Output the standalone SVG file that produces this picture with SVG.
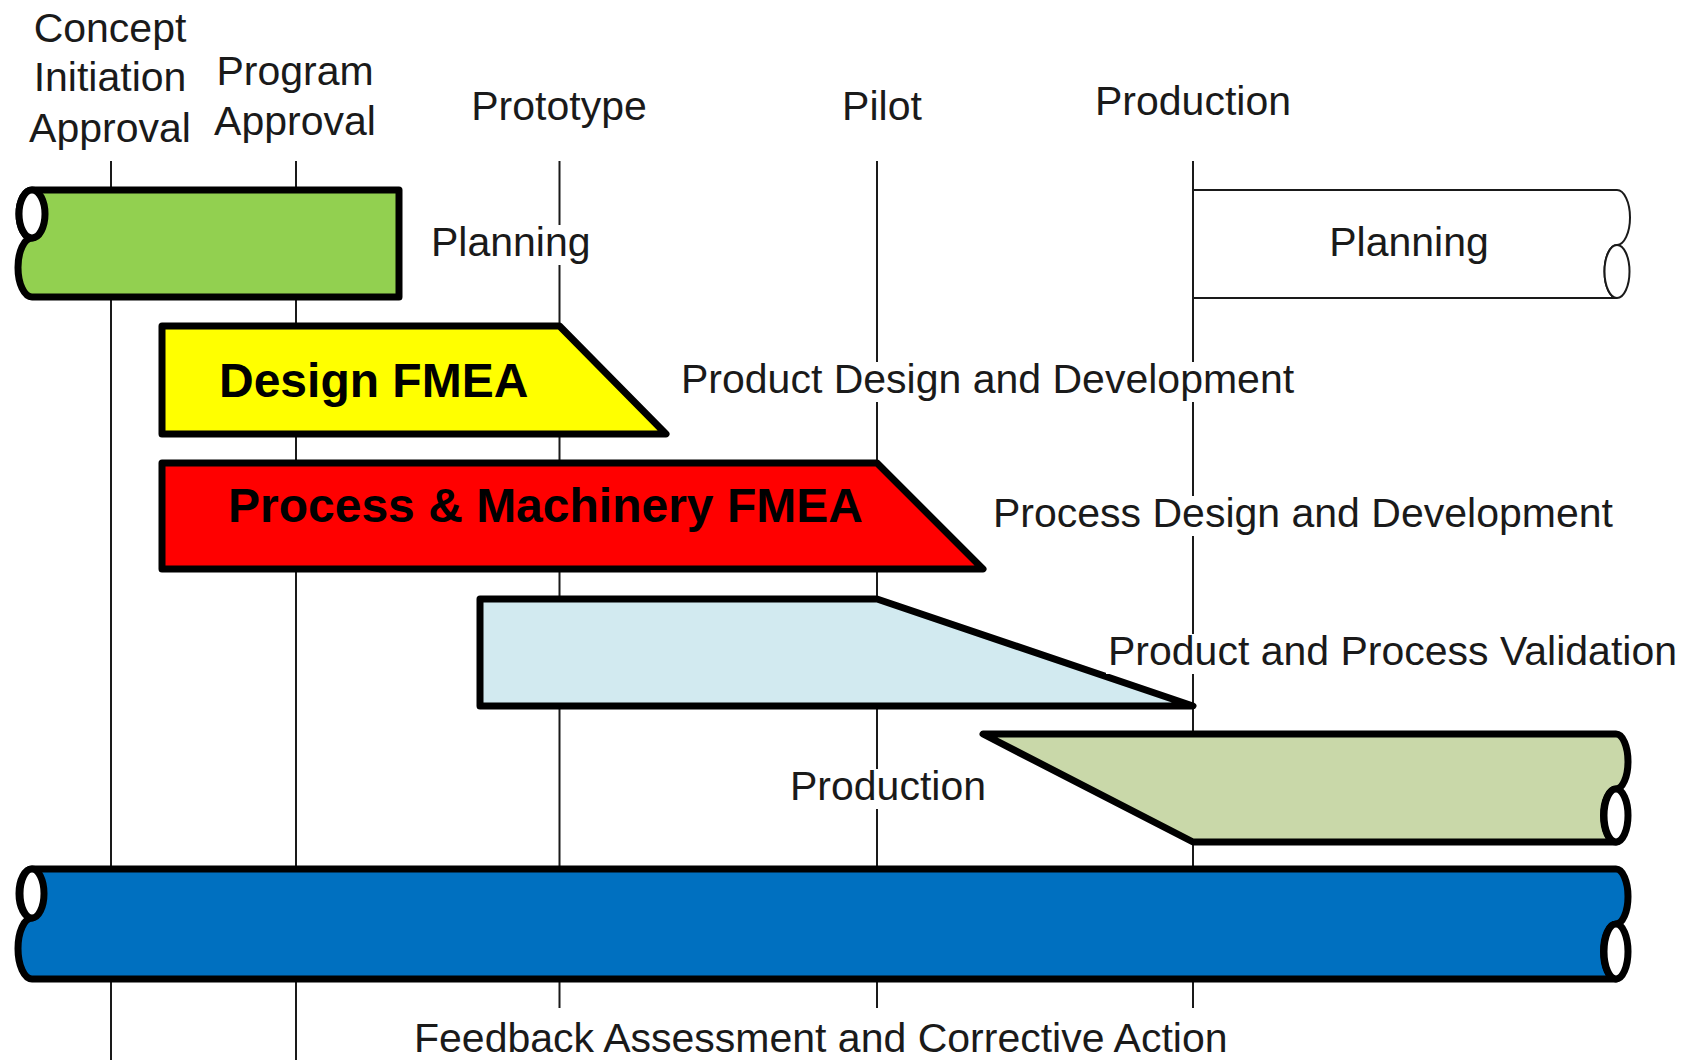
<svg xmlns="http://www.w3.org/2000/svg" width="1687" height="1060" viewBox="0 0 1687 1060">
<style>
  .t { font-family: "Liberation Sans", Arial, sans-serif; font-size: 41px; fill: #1a1a1a; }
  .tb { font-family: "Liberation Sans", Arial, sans-serif; font-size: 48px; font-weight: bold; fill: #000; }
  .vl { stroke: #1a1a1a; stroke-width: 2; fill: none; }
  .bar { stroke: #000; stroke-width: 7; stroke-linejoin: round; }
  .hole { fill: #fff; stroke: #000; stroke-width: 7; }
  .bg { fill: #fff; }
</style>
<rect x="0" y="0" width="1687" height="1060" fill="#fff"/>

<g id="connectors">
  <line class="vl" x1="111" y1="161" x2="111" y2="1060"/>
  <line class="vl" x1="296" y1="161" x2="296" y2="1060"/>
  <line class="vl" x1="559.5" y1="161" x2="559.5" y2="1008"/>
  <line class="vl" x1="877" y1="161" x2="877" y2="1008"/>
  <line class="vl" x1="1193" y1="161" x2="1193" y2="1008"/>
</g>

<g id="milestones">
  <text class="t" text-anchor="middle" x="110" y="42">Concept</text>
  <text class="t" text-anchor="middle" x="110" y="91">Initiation</text>
  <text class="t" text-anchor="middle" x="110" y="142">Approval</text>
  <text class="t" text-anchor="middle" x="295" y="85">Program</text>
  <text class="t" text-anchor="middle" x="295" y="135">Approval</text>
  <text class="t" text-anchor="middle" x="559" y="120">Prototype</text>
  <text class="t" text-anchor="middle" x="882" y="120">Pilot</text>
  <text class="t" text-anchor="middle" x="1193" y="115">Production</text>
</g>

<g id="planning-start">
  <path class="bar" fill="#92D050" d="M32 190 H399 V297 H32 A14 29.5 0 0 1 32 238 A13 24 0 0 1 32 190 Z"/>
  <ellipse class="hole" cx="32" cy="214" rx="13" ry="24"/>
</g>

<g id="planning-label">
  <rect class="bg" x="429" y="225" width="163" height="40"/>
  <text class="t" x="431" y="256">Planning</text>
</g>

<g id="planning-end">
  <path fill="#fff" stroke="#1a1a1a" stroke-width="2" d="M1194 190 H1617 A13 27.5 0 0 1 1617 245 A12.5 26.5 0 0 0 1617 298 H1194"/>
  <ellipse fill="#fff" stroke="#1a1a1a" stroke-width="2" cx="1617" cy="271.5" rx="12.5" ry="26.5"/>
  <text class="t" text-anchor="middle" x="1409" y="256">Planning</text>
</g>

<g id="design-fmea">
  <path class="bar" fill="#FFFF00" d="M162 326 H559.5 L666 434 H162 Z"/>
  <text class="tb" x="219" y="397">Design FMEA</text>
</g>

<g id="product-design-label">
  <rect class="bg" x="679" y="362" width="615" height="40"/>
  <text class="t" x="681" y="393">Product Design and Development</text>
</g>

<g id="process-fmea">
  <path class="bar" fill="#FF0000" d="M162 463 H877 L983 569 H162 Z"/>
  <text class="tb" x="228" y="522">Process &amp; Machinery FMEA</text>
</g>

<g id="process-design-label">
  <rect class="bg" x="991" y="496" width="622" height="40"/>
  <text class="t" x="993" y="527">Process Design and Development</text>
</g>

<g id="validation">
  <path class="bar" fill="#D2EAF0" d="M480 599 H877 L1193 706 H480 Z"/>
</g>

<g id="validation-label">
  <rect class="bg" x="1106" y="634" width="576" height="40"/>
  <text class="t" x="1108" y="665">Product and Process Validation</text>
</g>

<g id="production-bar">
  <path class="bar" fill="#C9D8A9" d="M983 734 H1616 A12 27.5 0 0 1 1616 789 A12.5 26.5 0 0 0 1616 842 H1193 Z"/>
  <ellipse class="hole" cx="1616" cy="815.5" rx="12" ry="26.5"/>
</g>

<g id="production-label">
  <rect class="bg" x="788" y="769" width="197" height="40"/>
  <text class="t" x="790" y="800">Production</text>
</g>

<g id="feedback-bar">
  <path class="bar" fill="#0070C0" d="M32 869 H1616 A12 27.5 0 0 1 1616 924 A12.5 27.5 0 0 0 1616 979 H32 A14 30.5 0 0 1 32 918 A13 24.5 0 0 1 32 869 Z"/>
  <ellipse class="hole" cx="32" cy="893.5" rx="12" ry="24.5"/>
  <ellipse class="hole" cx="1616" cy="951.5" rx="12" ry="27.5"/>
</g>

<g id="feedback-label">
  <text class="t" x="414" y="1052">Feedback Assessment and Corrective Action</text>
</g>
</svg>
